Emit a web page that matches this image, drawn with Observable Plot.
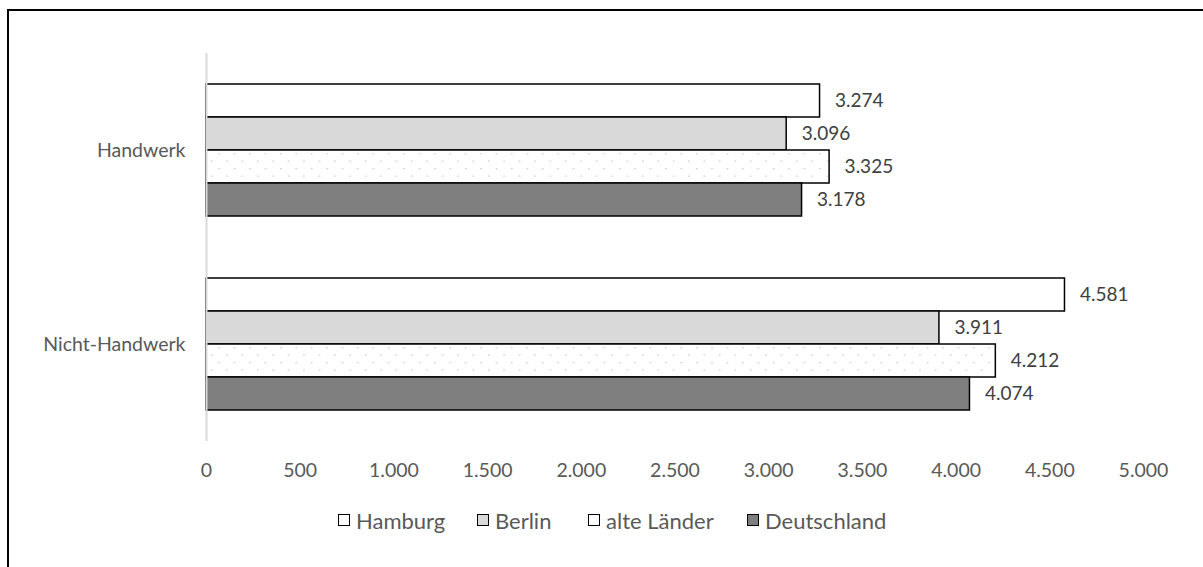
<!DOCTYPE html>
<html>
<head>
<meta charset="utf-8">
<script src="https://cdn.jsdelivr.net/npm/d3@7"></script>
<script src="https://cdn.jsdelivr.net/npm/@observablehq/plot@0.6"></script>
<style>
  html, body { margin: 0; padding: 0; background: #fff; }
  #wrap { position: relative; width: 1203px; height: 567px; overflow: hidden; font-family: Lato, "Open Sans", sans-serif; }
  #border { position: absolute; left: 7px; top: 9px; width: 1300px; height: 700px; border-left: 2px solid #000; border-top: 2px solid #000; }
  #chart { position: absolute; left: 0; top: 0; }
  .leg { position: absolute; top: 506px; height: 28px; display: flex; align-items: center; font-size: 22px; color: #595959; white-space: nowrap; }
  .leg .sw { width: 10px; height: 10px; border: 1.3px solid #000; margin-right: 6px; box-sizing: content-box; }
</style>
</head>
<body>
<div id="wrap">
  <div id="border"></div>
  <div id="chart"></div>
</div>
<script>
// ---- data ----
const categories = ["Handwerk", "Nicht-Handwerk"];
const seriesNames = ["Hamburg", "Berlin", "alte Länder", "Deutschland"];
const handwerkValues = [3274, 3096, 3325, 3178];
const nichtHandwerkValues = [4581, 3911, 4212, 4074];
const xTicks = [0, 500, 1000, 1500, 2000, 2500, 3000, 3500, 4000, 4500, 5000];
const seriesFills = ["#ffffff", "#d9d9d9", "url(#dots)", "#7f7f7f"];
const legendLeft = [338, 477, 588, 747];

const valuesByCat = [handwerkValues, nichtHandwerkValues];
const data = [];
categories.forEach((c, ci) => {
  seriesNames.forEach((s, si) => {
    data.push({category: c, series: s, value: valuesByCat[ci][si]});
  });
});

const fmt = d => d3.format(",")(d).replace(/,/g, ".");

const chart = Plot.plot({
  width: 1203,
  height: 500,
  marginLeft: 206,
  marginRight: 60,
  marginTop: 53,
  marginBottom: 59,
  style: {fontFamily: "Lato, 'Open Sans', sans-serif", fontSize: "19.5px", color: "#595959", background: "transparent", overflow: "visible"},
  facet: {data, y: "category"},
  fy: {domain: categories, padding: 0, axis: "left", label: null, tickSize: 0, tickPadding: 21, fontSize: 20},
  y: {domain: seriesNames, paddingInner: 0, paddingOuter: 0.88, axis: null},
  x: {domain: [0, 5000], ticks: xTicks, tickFormat: fmt, tickSize: 0, tickPadding: 22, label: null, line: false},
  color: {type: "ordinal", domain: seriesNames, range: seriesFills},
  marks: [
    Plot.barX(data, {x: "value", y: "series", fill: "series", stroke: "#000", strokeWidth: 1.5}),
    Plot.ruleX([0], {stroke: "#d9d9d9", strokeWidth: 2}),
    Plot.text(data, {x: "value", y: "series", text: d => fmt(d.value), textAnchor: "start", dx: 15, fill: "#404040", fontSize: 19})
  ]
});

// dotted pattern for "alte Länder"
const ns = "http://www.w3.org/2000/svg";
const defs = document.createElementNS(ns, "defs");
defs.innerHTML = '<pattern id="dots" patternUnits="userSpaceOnUse" width="15.4" height="15" x="0" y="0">' +
  '<rect width="15.4" height="15" fill="#ffffff"/>' +
  '<rect x="3" y="3" width="1.3" height="1.3" fill="#c4c4c4"/>' +
  '<rect x="10.7" y="10.5" width="1.3" height="1.3" fill="#c4c4c4"/></pattern>';
chart.insertBefore(defs, chart.firstChild);
document.getElementById("chart").appendChild(chart);

// legend
const wrap = document.getElementById("wrap");
seriesNames.forEach((s, i) => {
  const item = document.createElement("div");
  item.className = "leg";
  item.style.left = legendLeft[i] + "px";
  const sw = document.createElement("div");
  sw.className = "sw";
  sw.style.background = i === 2 ? "#ffffff" : seriesFills[i];
  const t = document.createElement("span");
  t.textContent = s;
  item.appendChild(sw);
  item.appendChild(t);
  wrap.appendChild(item);
});
</script>
</body>
</html>
